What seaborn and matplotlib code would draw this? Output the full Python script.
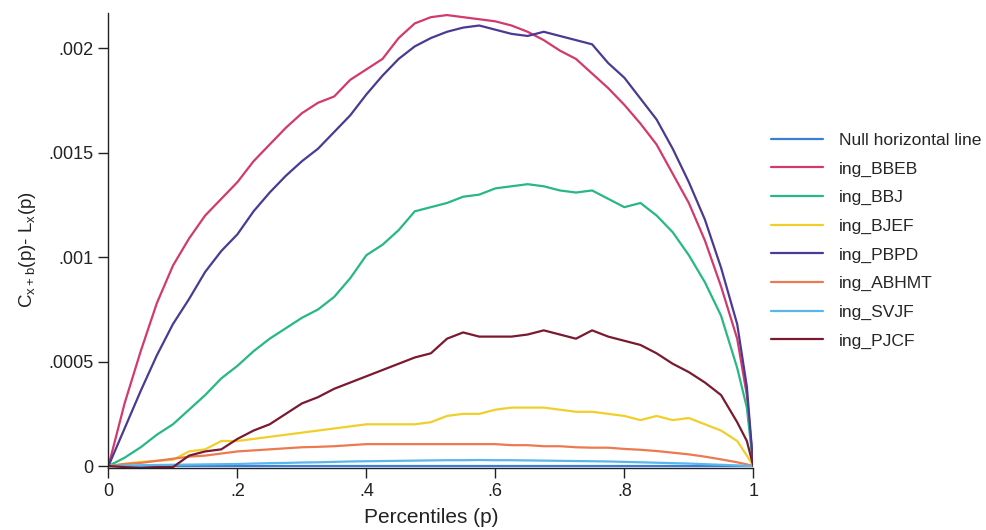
import numpy as np
import pandas as pd
import matplotlib
matplotlib.use("Agg")
import matplotlib.pyplot as plt
import seaborn as sns

# percentiles
p = [0, 0.025, 0.05, 0.075, 0.1, 0.125, 0.15, 0.175, 0.2, 0.225, 0.25, 0.275,
     0.3, 0.325, 0.35, 0.375, 0.4, 0.425, 0.45, 0.475, 0.5, 0.525, 0.55, 0.575,
     0.6, 0.625, 0.65, 0.675, 0.7, 0.725, 0.75, 0.775, 0.8, 0.825, 0.85, 0.875,
     0.9, 0.925, 0.95, 0.975, 0.99, 1.0]

# values in units of 1e-4
null_line = [0.0] * 42
ing_BBEB = [0, 3.0, 5.5, 7.8, 9.6, 10.9, 12.0, 12.8, 13.6, 14.6, 15.4, 16.2,
            16.9, 17.4, 17.7, 18.5, 19.0, 19.5, 20.5, 21.2, 21.5, 21.6, 21.5, 21.4,
            21.3, 21.1, 20.8, 20.4, 19.9, 19.5, 18.8, 18.1, 17.3, 16.4, 15.4, 14.0,
            12.6, 10.8, 8.6, 6.1, 3.4, 0]
ing_BBJ = [0, 0.4, 0.9, 1.5, 2.0, 2.7, 3.4, 4.2, 4.8, 5.5, 6.1, 6.6,
           7.1, 7.5, 8.1, 9.0, 10.1, 10.6, 11.3, 12.2, 12.4, 12.6, 12.9, 13.0,
           13.3, 13.4, 13.5, 13.4, 13.2, 13.1, 13.2, 12.8, 12.4, 12.6, 12.0, 11.2,
           10.1, 8.8, 7.2, 4.7, 2.8, 0]
ing_BJEF = [0, 0.1, 0.2, 0.25, 0.3, 0.7, 0.8, 1.2, 1.2, 1.3, 1.4, 1.5,
            1.6, 1.7, 1.8, 1.9, 2.0, 2.0, 2.0, 2.0, 2.1, 2.4, 2.5, 2.5,
            2.7, 2.8, 2.8, 2.8, 2.7, 2.6, 2.6, 2.5, 2.4, 2.2, 2.4, 2.2,
            2.3, 2.0, 1.7, 1.2, 0.5, 0]
ing_PBPD = [0, 1.8, 3.6, 5.3, 6.8, 8.0, 9.3, 10.3, 11.1, 12.2, 13.1, 13.9,
            14.6, 15.2, 16.0, 16.8, 17.8, 18.7, 19.5, 20.1, 20.5, 20.8, 21.0, 21.1,
            20.9, 20.7, 20.6, 20.8, 20.6, 20.4, 20.2, 19.3, 18.6, 17.6, 16.6, 15.2,
            13.6, 11.8, 9.5, 6.8, 3.8, 0]
ing_ABHMT = [0, 0.1, 0.15, 0.25, 0.35, 0.45, 0.5, 0.6, 0.7, 0.75, 0.8, 0.85,
             0.9, 0.92, 0.95, 1.0, 1.05, 1.05, 1.05, 1.05, 1.05, 1.05, 1.05, 1.05,
             1.05, 1.0, 1.0, 0.95, 0.95, 0.9, 0.88, 0.88, 0.82, 0.78, 0.72, 0.64,
             0.56, 0.45, 0.32, 0.18, 0.08, 0]
ing_SVJF = [0, 0.02, 0.04, 0.05, 0.06, 0.07, 0.08, 0.09, 0.1, 0.12, 0.14, 0.15,
            0.17, 0.18, 0.2, 0.22, 0.23, 0.24, 0.25, 0.26, 0.27, 0.28, 0.28, 0.29,
            0.28, 0.28, 0.27, 0.26, 0.25, 0.24, 0.23, 0.22, 0.2, 0.18, 0.16, 0.14,
            0.12, 0.09, 0.06, 0.03, 0.01, 0]
ing_PJCF = [0, -0.05, -0.1, -0.05, -0.05, 0.5, 0.7, 0.8, 1.3, 1.7, 2.0, 2.5,
            3.0, 3.3, 3.7, 4.0, 4.3, 4.6, 4.9, 5.2, 5.4, 6.1, 6.4, 6.2,
            6.2, 6.2, 6.3, 6.5, 6.3, 6.1, 6.5, 6.2, 6.0, 5.8, 5.4, 4.9,
            4.5, 4.0, 3.4, 2.1, 1.2, 0]

labels = ["Null horizontal line", "ing_BBEB", "ing_BBJ", "ing_BJEF", "ing_PBPD",
          "ing_ABHMT", "ing_SVJF", "ing_PJCF"]
series = [null_line, ing_BBEB, ing_BBJ, ing_BJEF, ing_PBPD, ing_ABHMT, ing_SVJF, ing_PJCF]
colors = ["#3a7fd6", "#d23a6e", "#27b884", "#f1cf2b", "#4b3a93",
          "#ec7a50", "#5bb7ea", "#7a1a30"]

frames = []
for lab, vals in zip(labels, series):
    frames.append(pd.DataFrame({"p": p, "value": np.array(vals) * 1e-4, "series": lab}))
df = pd.concat(frames, ignore_index=True)

sns.set_style("ticks")
plt.rcParams["font.family"] = ["Liberation Sans", "DejaVu Sans"]

fig = plt.figure(figsize=(9.86, 5.30), dpi=100)
ax = fig.add_axes([0.110, 0.1175, 0.654, 0.858])

sns.lineplot(data=df, x="p", y="value", hue="series", hue_order=labels,
             palette=dict(zip(labels, colors)), linewidth=1.6, ax=ax, legend=False,
             estimator=None, sort=False)

ax.set_xlim(0, 1)
ax.set_ylim(-0.000008, 0.00217)
ax.set_xticks([0, 0.2, 0.4, 0.6, 0.8, 1.0])
ax.set_xticklabels(["0", ".2", ".4", ".6", ".8", "1"])
ax.set_yticks([0, 0.0005, 0.001, 0.0015, 0.002])
ax.set_yticklabels(["0", ".0005", ".001", ".0015", ".002"])
ax.tick_params(axis="both", labelsize=13, length=7, width=1, colors="#222222",
               direction="out", pad=4)
for s in ["top", "right"]:
    ax.spines[s].set_visible(False)
for s in ["left", "bottom"]:
    ax.spines[s].set_color("#222222")
    ax.spines[s].set_linewidth(1.0)

ax.set_xlabel("Percentiles (p)", fontsize=15, color="#222222", labelpad=6)
ax.set_ylabel(r"C$_{\mathregular{x+b}}$(p)- L$_{\mathregular{x}}$(p)", fontsize=13.5,
              color="#222222")
ax.yaxis.set_label_coords(-0.11, 0.48)

handles = [plt.Line2D([], [], color=c, linewidth=1.6) for c in colors]
fig.legend(handles, labels, loc="upper left", bbox_to_anchor=(0.775, 0.763),
           frameon=False, fontsize=12.6, handlelength=2.97, handletextpad=0.91,
           labelspacing=0.76, borderaxespad=0)

fig.savefig("out.png", dpi=100, facecolor="white")
